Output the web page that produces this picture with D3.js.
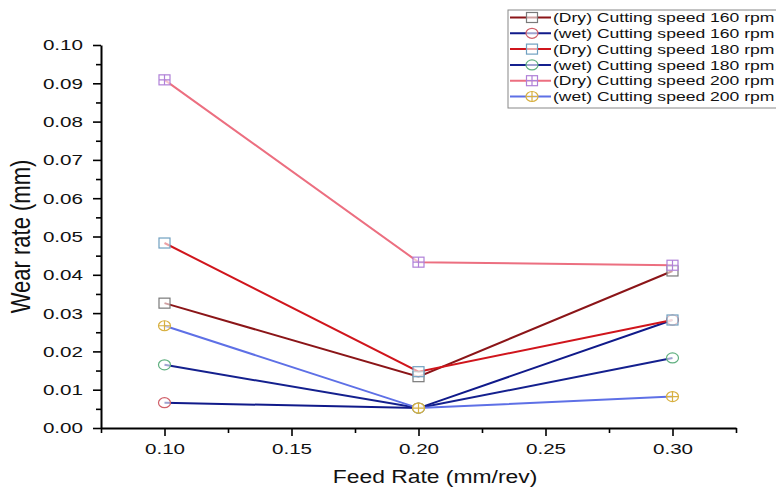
<!DOCTYPE html>
<html>
<head>
<meta charset="utf-8">
<script src="https://cdn.jsdelivr.net/npm/d3@7"></script>
<style>
  body { margin: 0; background: #fff; }
  svg { font-family: "Liberation Sans", Arial, sans-serif; }
</style>
</head>
<body>
<div id="chart"></div>
<script>
// data
const feedRates = [0.10, 0.20, 0.30];
const seriesNames = [
  "(Dry) Cutting speed 160 rpm",
  "(wet) Cutting speed 160 rpm",
  "(Dry) Cutting speed 180 rpm",
  "(wet) Cutting speed 180 rpm",
  "(Dry) Cutting speed 200 rpm",
  "(wet) Cutting speed 200 rpm"
];
const dry160 = [0.0326, 0.0134, 0.0410];
const wet160 = [0.0066, 0.0052, 0.0282];
const dry180 = [0.0483, 0.0147, 0.0282];
const wet180 = [0.0165, 0.0052, 0.0183];
const dry200 = [0.0909, 0.0433, 0.0425];
const wet200 = [0.0267, 0.0052, 0.0082];
const xTicks = [0.10, 0.15, 0.20, 0.25, 0.30];
const yTicks = [0, 0.01, 0.02, 0.03, 0.04, 0.05, 0.06, 0.07, 0.08, 0.09, 0.10];

const lineColors = ["#8b1518", "#101a8a", "#d0151c", "#14208e", "#ec6f80", "#5e70e6"];
const markerColors = ["#7a7a7a", "#d0606a", "#70a0c0", "#60b080", "#b080d8", "#d8b040"];
const markerKinds = ["square", "circle", "square", "circle", "squareplus", "circleplus"];
const values = [dry160, wet160, dry180, wet180, dry200, wet200];

const W = 776, H = 493;
const margin = { top: 45, right: 40, bottom: 65, left: 101 };

const svg = d3.select("#chart").append("svg")
  .attr("width", W).attr("height", H);

// the original picture has wide, horizontally stretched lettering
function stretch(sel, k) {
  sel.each(function() {
    const w = this.getComputedTextLength();
    d3.select(this).attr("textLength", w * k).attr("lengthAdjust", "spacingAndGlyphs");
  });
}

let x = d3.scaleLinear().domain([0.075, 0.325]).range([margin.left, W - margin.right]);
let y = d3.scaleLinear().domain([0, 0.10]).range([H - margin.bottom, margin.top]);

// minor ticks first, then major with labels
svg.append("g")
  .attr("transform", `translate(0,${y(0)})`)
  .call(d3.axisBottom(x).tickValues([0.075, 0.125, 0.175, 0.225, 0.275, 0.325]).tickSize(5).tickFormat(""))
  .call(g => g.select(".domain").remove())
  .call(g => g.selectAll("line").attr("stroke", "#000").attr("stroke-width", 1.6));

let xg = svg.append("g")
  .attr("transform", `translate(0,${y(0)})`)
  .call(d3.axisBottom(x).tickValues(xTicks).tickSize(8).tickSizeOuter(0).tickFormat(d3.format(".2f")));
xg.select(".domain").attr("stroke-width", 2);
xg.selectAll("line").attr("stroke-width", 1.6);
xg.selectAll("text").attr("font-size", 15.5).attr("y", 26).attr("dy", 0).attr("fill", "#111")
  .attr("font-family", "Liberation Sans, Arial, sans-serif")
  .call(stretch, 1.33);

svg.append("g")
  .attr("transform", `translate(${x(0.075)},0)`)
  .call(d3.axisLeft(y).tickValues(d3.range(0.005, 0.1, 0.01)).tickSize(5).tickFormat(""))
  .call(g => g.select(".domain").remove())
  .call(g => g.selectAll("line").attr("stroke", "#000").attr("stroke-width", 1.6));

let yg = svg.append("g")
  .attr("transform", `translate(${x(0.075)},0)`)
  .call(d3.axisLeft(y).tickValues(yTicks).tickSize(8).tickSizeOuter(0).tickFormat(d3.format(".2f")));
yg.select(".domain").attr("stroke-width", 2);
yg.selectAll("line").attr("stroke-width", 1.6);
yg.selectAll("text").attr("font-size", 15.5).attr("x", -18).attr("fill", "#111")
  .attr("font-family", "Liberation Sans, Arial, sans-serif")
  .call(stretch, 1.33);

// axis titles
svg.append("text")
  .attr("x", 435).attr("y", 483)
  .attr("text-anchor", "middle").attr("font-size", 18).attr("fill", "#111")
  .text("Feed Rate (mm/rev)")
  .call(stretch, 1.27);
svg.append("text")
  .attr("transform", `translate(30,${y(0.05)}) scale(1.25,1) rotate(-90)`)
  .attr("text-anchor", "middle").attr("font-size", 22).attr("fill", "#111")
  .text("Wear rate (mm)");

function drawMarker(g, kind, color) {
  if (kind.startsWith("square")) {
    g.append("rect").attr("x", -5.5).attr("y", -5).attr("width", 11).attr("height", 10)
      .attr("fill", "white").attr("fill-opacity", 0.6).attr("stroke", color).attr("stroke-width", 1.2);
  } else {
    g.append("ellipse").attr("rx", 6).attr("ry", 5)
      .attr("fill", "white").attr("fill-opacity", 0.6).attr("stroke", color).attr("stroke-width", 1.2);
  }
  if (kind.endsWith("plus")) {
    g.append("path").attr("d", "M-5.5,0H5.5M0,-5V5")
      .attr("stroke", color).attr("stroke-width", 1.2);
  }
}

let line = d3.line()
  .x((d, i) => x(feedRates[i]))
  .y(d => y(d));

values.forEach((vals, s) => {
  svg.append("path")
    .datum(vals)
    .attr("fill", "none")
    .attr("stroke", lineColors[s])
    .attr("stroke-width", 2)
    .attr("d", line);
});
values.forEach((vals, s) => {
  vals.forEach((v, i) => {
    let g = svg.append("g").attr("transform", `translate(${x(feedRates[i])},${y(v)})`);
    drawMarker(g, markerKinds[s], markerColors[s]);
  });
});

// legend
let legend = svg.append("g").attr("class", "legend").attr("transform", "translate(508,10)");
legend.append("rect")
  .attr("x", 0).attr("y", 0).attr("width", 290).attr("height", 98)
  .attr("fill", "white").attr("stroke", "#888").attr("stroke-width", 1);
seriesNames.forEach((name, i) => {
  let ly = 7.5 + i * 15.8;
  legend.append("line")
    .attr("x1", 2).attr("x2", 43).attr("y1", ly).attr("y2", ly)
    .attr("stroke", lineColors[i]).attr("stroke-width", 2);
  let g = legend.append("g").attr("transform", `translate(24,${ly})`);
  drawMarker(g, markerKinds[i], markerColors[i]);
  legend.append("text")
    .attr("x", 45).attr("y", ly).attr("dy", "0.36em")
    .attr("font-size", 13).attr("fill", "#111")
    .text(name)
    .call(stretch, 1.35);
});
</script>
</body>
</html>
